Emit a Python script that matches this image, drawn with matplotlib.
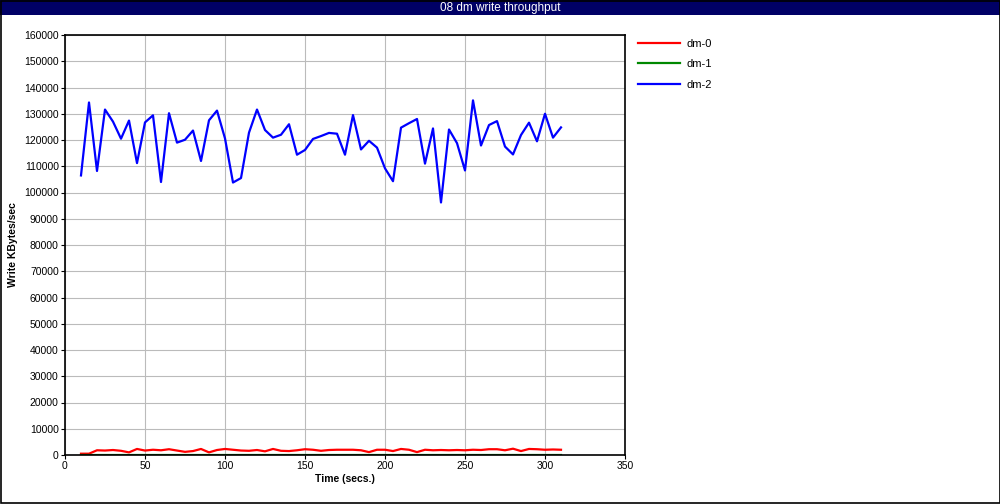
import matplotlib
matplotlib.use("Agg")
import matplotlib.pyplot as plt
from matplotlib.patches import Rectangle

matplotlib.rcParams['font.family'] = ['Liberation Sans', 'DejaVu Sans']
matplotlib.rcParams['font.size'] = 7.5

TITLE = "08 dm write throughput"
times = list(range(10, 315, 5))

dm0 = [500, 500, 1800, 1700, 1900, 1600, 1000, 2300, 1700, 2000,
       1800, 2200, 1700, 1200, 1500, 2300, 1000, 1900, 2300, 2000,
       1700, 1600, 1900, 1400, 2300, 1600, 1500, 1800, 2200, 2000,
       1600, 1900, 2000, 2000, 2000, 1800, 1100, 2000, 2000, 1500,
       2300, 2000, 1100, 2000, 1800, 1900, 1800, 1900, 1800, 2000,
       1900, 2200, 2200, 1800, 2400, 1500, 2300, 2200, 2000, 2100,
       2000]
dm1 = [50] * len(times)
dm2 = [106500, 134300, 108200, 131600, 127000, 120500, 127400, 111200, 126700, 129400,
       104000, 130200, 119000, 120100, 123600, 112000, 127500, 131200, 120600, 103800,
       105500, 122800, 131600, 123800, 120900, 122000, 126000, 114400, 116200, 120400,
       121500, 122700, 122400, 114400, 129500, 116400, 119700, 117100, 109200, 104300,
       124700, 126400, 128000, 111000, 124400, 96200, 124000, 118800, 108400, 135100,
       117900, 125700, 127200, 117500, 114500, 121900, 126600, 119500, 130000, 120900,
       124800]

series = [("dm-0", dm0, "#ff0000"), ("dm-1", dm1, "#008800"), ("dm-2", dm2, "#0000ff")]

fig = plt.figure(figsize=(10.0, 5.04), dpi=100)

# title bar across the top
fig.patches.append(Rectangle((0, 1 - 15 / 504), 1, 15 / 504, transform=fig.transFigure,
                             facecolor="#000066", edgecolor="none", zorder=0))
fig.text(0.5, 1 - 7.5 / 504, TITLE, color="white", ha="center", va="center", fontsize=8.5)
fig.patches.append(Rectangle((0.0005, 0.001), 0.999, 0.998, transform=fig.transFigure,
                             facecolor="none", edgecolor="black", linewidth=1.2))

ax = fig.add_axes([0.065, 49 / 504, 0.56, 420 / 504])
for name, vals, col in series:
    ax.plot(times, vals, color=col, linewidth=1.6, label=name)

ax.set_xlim(0, 350)
ax.set_ylim(0, 160000)
ax.set_xticks(range(0, 351, 50))
ax.set_yticks(range(0, 160001, 10000))
ax.grid(True, color="#bbbbbb", linewidth=0.8)
ax.set_axisbelow(True)
for s in ax.spines.values():
    s.set_linewidth(1.2)
ax.tick_params(direction="out", length=3, width=0.8, pad=1.5)
ax.set_xlabel("Time (secs.)", fontweight="bold", labelpad=2)
ax.set_ylabel("Write KBytes/sec", fontweight="bold", labelpad=4)

ax.legend(loc="upper left", bbox_to_anchor=(1.005, 1.015), frameon=False,
          handlelength=3.8, handletextpad=0.6, labelspacing=0.95, fontsize=8)

fig.savefig("out.png", dpi=100)
